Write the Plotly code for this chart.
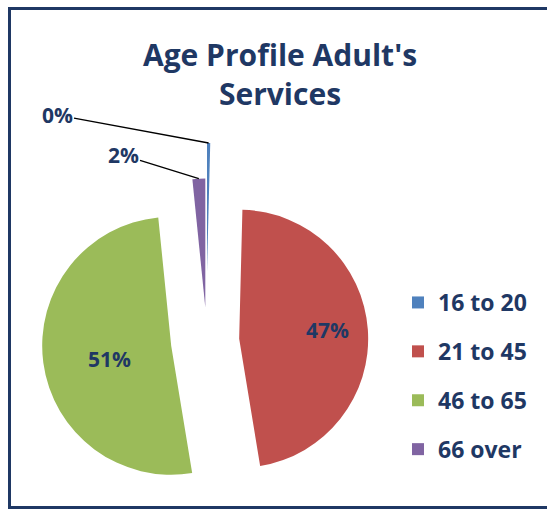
import math
import plotly.graph_objects as go

# ---- data -------------------------------------------------------------
categories = ["16 to 20", "21 to 45", "46 to 65", "66 over"]
shares = [0.4, 47.0, 51.0, 1.6]          # percent of adult service users
colors = ["#4F81BD", "#C0504D", "#9BBB59", "#8064A2"]

# ---- styling / geometry ----------------------------------------------
W, H = 547, 510
NAVY = "#1F3864"
FONT = "Open Sans"
TRANSPARENT = "rgba(0,0,0,0)"

radius = 129                 # pie radius in px
cx, cy = 207, 341            # pie centre in px (from top-left)
pulls = [0.0, 0.25, 0.28, 0.26]
lift_first = 69              # the thin first slice is lifted further (px)

# where each percentage label sits (px); small slices get a leader line
label_pos = [(57, 115), (327, 330), (86, 375), (123, 155)]
leader = [True, False, False, True]

total = sum(shares)
pct_text = [f"{round(v / total * 100)}%" for v in shares]


def domain_for(centre_x, centre_y, box):
    return dict(
        x=[(centre_x - box / 2) / W, (centre_x + box / 2) / W],
        y=[1 - (centre_y + box / 2) / H, 1 - (centre_y - box / 2) / H],
    )


fig = go.Figure()

# main pie: the three larger slices (first slice kept as an invisible gap)
box_main = 2 * radius * (1 + max(pulls))
fig.add_trace(go.Pie(
    labels=categories,
    values=shares,
    sort=False,
    direction="clockwise",
    rotation=0,
    pull=pulls,
    marker=dict(colors=[TRANSPARENT] + colors[1:], line=dict(width=0)),
    textinfo="none",
    domain=domain_for(cx, cy, box_main),
    showlegend=False,
    hoverinfo="skip",
))

# the thin first slice, drawn from a lifted centre
box_first = 2 * radius
fig.add_trace(go.Pie(
    labels=categories,
    values=shares,
    sort=False,
    direction="clockwise",
    rotation=0,
    marker=dict(colors=[colors[0]] + [TRANSPARENT] * 3, line=dict(width=0)),
    textinfo="none",
    domain=domain_for(cx, cy - lift_first, box_first),
    showlegend=False,
    hoverinfo="skip",
))

# legend entries
for i, (name, col) in enumerate(zip(categories, colors)):
    fig.add_trace(go.Scatter(
        x=[None], y=[None], mode="markers", name=name,
        legendgroup=f"g{i}",
        marker=dict(symbol="square", size=12, color=col),
    ))

# percentage labels
label_font = dict(family=FONT, size=21, color=NAVY, weight="bold")
annotations = []
cum = 0.0
for i, v in enumerate(shares):
    mid = math.radians((cum + v / 2) / total * 360)
    cum += v
    lx, ly = label_pos[i]
    if not leader[i]:
        annotations.append(dict(
            x=lx / W, y=1 - ly / H, xref="paper", yref="paper",
            text=pct_text[i], showarrow=False, font=label_font,
        ))
        continue
    if i == 0:
        ax0, ay0 = cx, cy - lift_first
    else:
        p = pulls[i] * radius
        ax0, ay0 = cx + p * math.sin(mid), cy - p * math.cos(mid)
    tip_x = ax0 + radius * math.sin(mid)
    tip_y = ay0 - radius * math.cos(mid)
    annotations.append(dict(
        x=tip_x / W, y=1 - tip_y / H, xref="paper", yref="paper",
        text=pct_text[i], showarrow=True, arrowhead=0, arrowwidth=1.3,
        arrowcolor="#000000", standoff=0,
        ax=lx - tip_x, ay=ly - tip_y, font=label_font,
    ))

fig.update_layout(
    width=W, height=H,
    margin=dict(l=0, r=0, t=0, b=0),
    paper_bgcolor="white", plot_bgcolor="white",
    xaxis=dict(visible=False), yaxis=dict(visible=False),
    title=dict(
        text="Age Profile Adult's<br>Services",
        x=280 / W, xanchor="center", y=1 - 66 / H, yanchor="top",
        font=dict(family=FONT, size=30, color=NAVY, weight="bold"),
    ),
    legend=dict(
        x=398 / W, xanchor="left", y=1 - 281 / H, yanchor="top",
        font=dict(family=FONT, size=23, color=NAVY, weight="bold"),
        tracegroupgap=16, bgcolor="rgba(0,0,0,0)",
    ),
    annotations=annotations,
    shapes=[dict(
        type="rect", xref="paper", yref="paper",
        x0=9.5 / W, x1=1.1, y0=1 - 507.5 / H, y1=1 - 8.5 / H,
        line=dict(color=NAVY, width=3), fillcolor=TRANSPARENT,
    )],
)

fig.write_html("out.html")
